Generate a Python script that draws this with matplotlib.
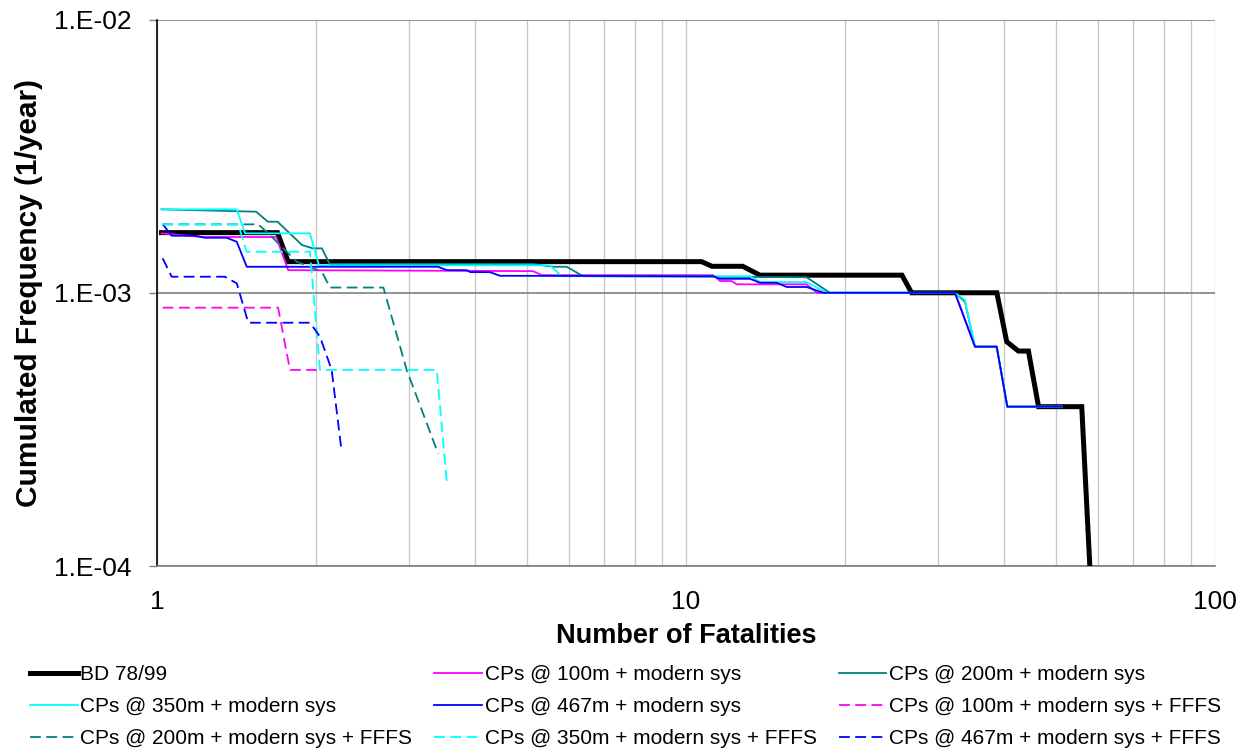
import numpy as np
import matplotlib
matplotlib.use("Agg")
import matplotlib.pyplot as plt
from matplotlib.ticker import FixedLocator, NullFormatter

plt.rcParams['font.family'] = ['Liberation Sans', 'DejaVu Sans']

# --- data (fatalities N, cumulated frequency F) ---
bd_x = [1.02, 1.69, 1.77, 10.7, 11.2, 12.8, 13.8, 25.6, 26.7, 38.7, 40.4, 42.5, 44.4, 46.4, 56.0, 58.0]
bd_y = [1.66e-3, 1.66e-3, 1.30e-3, 1.30e-3, 1.25e-3, 1.25e-3, 1.16e-3, 1.16e-3, 1.0e-3, 1.0e-3,
        6.62e-4, 6.12e-4, 6.12e-4, 3.83e-4, 3.83e-4, 1.0e-4]

m100_x = [1.02, 1.22, 1.68, 1.77, 5.14, 5.34, 11.26, 11.6, 12.2, 12.47, 16.9, 17.7,
          32.25, 35.18, 38.67, 40.5, 51.3]
m100_y = [1.65e-3, 1.60e-3, 1.60e-3, 1.21e-3, 1.20e-3, 1.16e-3, 1.16e-3, 1.104e-3, 1.104e-3,
          1.074e-3, 1.074e-3, 1.0e-3, 1.0e-3, 6.35e-4, 6.35e-4, 3.83e-4, 3.83e-4]

m200_x = [1.02, 1.54, 1.62, 1.69, 1.88, 1.97, 2.05, 2.12, 5.14, 5.61, 5.95, 6.39, 16.9, 18.7,
          32.25, 33.68, 35.18, 38.67, 40.5, 51.3]
m200_y = [2.02e-3, 1.98e-3, 1.82e-3, 1.82e-3, 1.495e-3, 1.454e-3, 1.454e-3, 1.275e-3, 1.275e-3,
          1.245e-3, 1.245e-3, 1.15e-3, 1.14e-3, 1.0e-3, 1.0e-3, 9.27e-4, 6.35e-4, 6.35e-4,
          3.83e-4, 3.83e-4]

m350_x = [1.02, 1.415, 1.467, 1.946, 2.024, 5.53, 5.82, 13.21, 13.8, 16.9, 18.45,
          32.25, 33.68, 35.18, 38.67, 40.5, 51.3]
m350_y = [2.02e-3, 2.02e-3, 1.65e-3, 1.65e-3, 1.26e-3, 1.26e-3, 1.15e-3, 1.15e-3, 1.095e-3,
          1.095e-3, 1.0e-3, 1.0e-3, 9.4e-4, 6.35e-4, 6.35e-4, 3.83e-4, 3.83e-4]

m467_x = [1.028, 1.066, 1.18, 1.232, 1.354, 1.415, 1.478, 3.40, 3.53, 3.85, 3.91, 4.26, 4.45,
          11.26, 11.6, 13.21, 13.8, 14.84, 15.5, 16.91, 18.18, 32.25, 35.18, 38.67, 40.5, 51.3]
m467_y = [1.77e-3, 1.617e-3, 1.617e-3, 1.59e-3, 1.59e-3, 1.537e-3, 1.245e-3, 1.245e-3, 1.21e-3,
          1.21e-3, 1.19e-3, 1.19e-3, 1.154e-3, 1.15e-3, 1.125e-3, 1.125e-3, 1.088e-3, 1.088e-3,
          1.05e-3, 1.05e-3, 1.0e-3, 1.0e-3, 6.35e-4, 6.35e-4, 3.83e-4, 3.83e-4]

f100_x = [1.025, 1.694, 1.784, 2.004]
f100_y = [8.82e-4, 8.82e-4, 5.22e-4, 5.22e-4]

f200_x = [1.023, 1.554, 1.623, 1.837, 2.05, 2.123, 2.679, 2.965, 3.40]
f200_y = [1.78e-3, 1.78e-3, 1.65e-3, 1.30e-3, 1.194e-3, 1.045e-3, 1.045e-3, 5.22e-4, 2.58e-4]

f350_x = [1.023, 1.424, 1.478, 1.946, 2.033, 3.38, 3.53]
f350_y = [1.78e-3, 1.78e-3, 1.413e-3, 1.413e-3, 5.22e-4, 5.22e-4, 2.03e-4]

f467_x = [1.025, 1.066, 1.344, 1.415, 1.488, 1.946, 2.033, 2.139, 2.234]
f467_y = [1.337e-3, 1.145e-3, 1.145e-3, 1.083e-3, 7.77e-4, 7.77e-4, 6.91e-4, 5.22e-4, 2.62e-4]

labels = ['BD 78/99',
          'CPs @ 100m + modern sys', 'CPs @ 200m + modern sys',
          'CPs @ 350m + modern sys', 'CPs @ 467m + modern sys',
          'CPs @ 100m + modern sys + FFFS', 'CPs @ 200m + modern sys + FFFS',
          'CPs @ 350m + modern sys + FFFS', 'CPs @ 467m + modern sys + FFFS']

fig = plt.figure(figsize=(12.47, 7.54), dpi=100)
ax = fig.add_axes([0.1259, 0.2493, 0.8484, 0.7248])

lw = 1.3
dash = (0, (6, 3))
h = []
h += ax.plot(bd_x, bd_y, color='black', lw=3.6, solid_joinstyle='miter', zorder=3)
h += ax.plot(m100_x, m100_y, color='#FF00FF', lw=lw, zorder=4)
h += ax.plot(m200_x, m200_y, color='#008080', lw=lw, zorder=4)
h += ax.plot(m350_x, m350_y, color='#00FFFF', lw=lw, zorder=4)
h += ax.plot(m467_x, m467_y, color='#0000FF', lw=lw, zorder=4)
h += ax.plot(f100_x, f100_y, color='#FF00FF', lw=lw, ls=dash, zorder=4)
h += ax.plot(f200_x, f200_y, color='#008080', lw=lw, ls=dash, zorder=4)
h += ax.plot(f350_x, f350_y, color='#00FFFF', lw=lw, ls=dash, zorder=4)
h += ax.plot(f467_x, f467_y, color='#0000FF', lw=lw, ls=dash, zorder=4)

ax.set_xscale('log')
ax.set_yscale('log')
ax.set_xlim(1, 100)
ax.set_ylim(1e-4, 1e-2)

ax.xaxis.set_major_locator(FixedLocator([1, 10, 100]))
ax.xaxis.set_minor_locator(FixedLocator([v * d for d in (1, 10) for v in range(2, 10)]))
ax.xaxis.set_minor_formatter(NullFormatter())
ax.set_xticklabels(['1', '10', '100'])
ax.yaxis.set_major_locator(FixedLocator([1e-4, 1e-3, 1e-2]))
ax.yaxis.set_minor_locator(FixedLocator([]))
ax.set_yticklabels(['1.E-04', '1.E-03', '1.E-02'])

ax.grid(True, axis='x', which='both', color='#C8C8C8', lw=1.0)
ax.grid(True, axis='y', which='major', color='#808080', lw=1.2)
ax.set_axisbelow(True)

for s in ('top', 'right'):
    ax.spines[s].set_visible(False)
ax.spines['left'].set_color('black')
ax.spines['left'].set_linewidth(1.2)
ax.spines['bottom'].set_color('#808080')
ax.spines['bottom'].set_linewidth(1.2)

ax.tick_params(axis='x', which='both', length=0, pad=17, labelsize=19)
ax.tick_params(axis='y', which='major', length=6, width=1.0, color='#808080', pad=12, labelsize=19)

ax.set_xlabel('Number of Fatalities', fontsize=19.5, fontweight='bold', labelpad=7)
ax.set_ylabel('Cumulated Frequency (1/year)', fontsize=21.5, fontweight='bold', labelpad=8)

# legend filled row by row as in the reference
order = [0, 3, 6, 1, 4, 7, 2, 5, 8]
fig.legend([h[i] for i in order], [labels[i] for i in order],
           loc='upper left', bbox_to_anchor=(0.024, 0.118), ncol=3, frameon=False,
           fontsize=15, handlelength=2.3, handletextpad=0.12, columnspacing=1.05,
           labelspacing=0.62, borderpad=0, borderaxespad=0)

fig.savefig('out.png', dpi=100)
